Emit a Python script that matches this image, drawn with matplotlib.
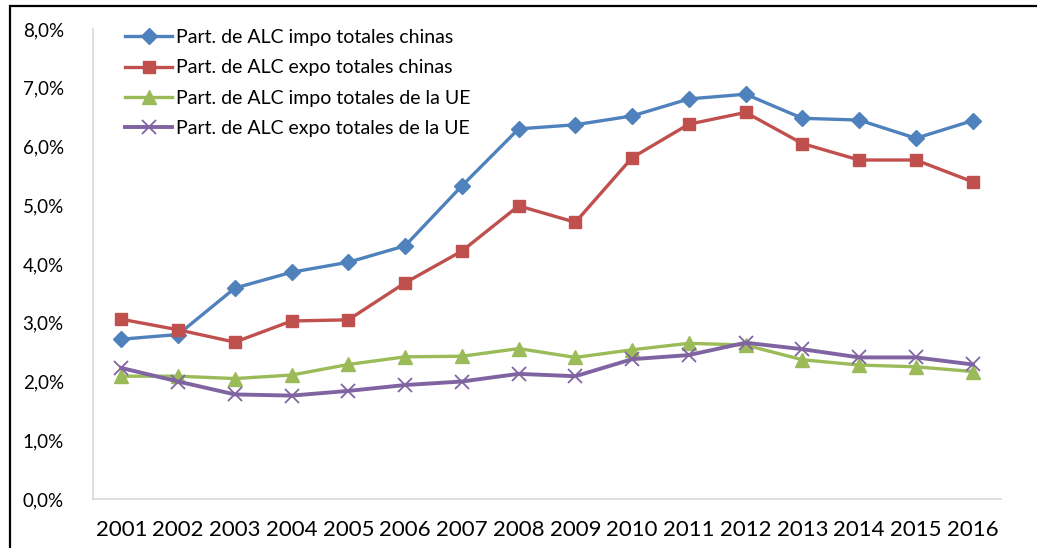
import matplotlib
matplotlib.use("Agg")
from matplotlib import pyplot as plt
from matplotlib.patches import Rectangle
from matplotlib.ticker import FuncFormatter, MultipleLocator

# years on the category axis
years = ["2001", "2002", "2003", "2004", "2005", "2006", "2007", "2008",
         "2009", "2010", "2011", "2012", "2013", "2014", "2015", "2016"]

# shares in percent
impo_china = [2.72, 2.80, 3.59, 3.86, 4.03, 4.31, 5.33, 6.30,
              6.37, 6.52, 6.81, 6.89, 6.48, 6.45, 6.14, 6.44]
expo_china = [3.06, 2.88, 2.67, 3.03, 3.05, 3.68, 4.22, 4.99,
              4.71, 5.81, 6.38, 6.58, 6.05, 5.77, 5.77, 5.40]
impo_ue = [2.09, 2.09, 2.05, 2.11, 2.29, 2.42, 2.43, 2.56,
           2.41, 2.54, 2.65, 2.62, 2.37, 2.28, 2.25, 2.17]
expo_ue = [2.23, 2.00, 1.78, 1.76, 1.84, 1.94, 2.00, 2.13,
           2.09, 2.38, 2.45, 2.66, 2.55, 2.41, 2.41, 2.29]

labels = ["Part. de ALC impo totales chinas",
          "Part. de ALC expo totales chinas",
          "Part. de ALC impo totales de la UE",
          "Part. de ALC expo totales de la UE"]

plt.rcParams['font.family'] = ['Lato', 'DejaVu Sans']

fig = plt.figure(figsize=(10.37, 5.48), dpi=100)
ax = fig.add_axes([93 / 1037, 1 - 499 / 548, 908 / 1037, 470 / 548])

x = range(len(years))
ax.plot(x, impo_china, color="#4F81BD", lw=2.4, marker="D", ms=8,
        label=labels[0])
ax.plot(x, expo_china, color="#C0504D", lw=2.4, marker="s", ms=8.5,
        label=labels[1])
ax.plot(x, impo_ue, color="#9BBB59", lw=2.4, marker="^", ms=10,
        label=labels[2])
ax.plot(x, expo_ue, color="#8064A2", lw=2.8, marker="x", ms=10, mew=1.3,
        label=labels[3])

ax.set_xlim(-0.5, len(years) - 0.5)
ax.set_ylim(0, 8)
ax.yaxis.set_major_locator(MultipleLocator(1))
ax.yaxis.set_major_formatter(
    FuncFormatter(lambda v, p: ("%.1f%%" % v).replace(".", ",")))
ax.set_xticks(list(x))
ax.set_xticklabels(years, fontsize=16)
ax.tick_params(axis="y", labelsize=13.5, length=0, pad=21)
ax.tick_params(axis="x", length=0, pad=15)

for s in ["top", "right"]:
    ax.spines[s].set_visible(False)
for s in ["left", "bottom"]:
    ax.spines[s].set_color("#D9D9D9")
    ax.spines[s].set_linewidth(1.2)

ax.legend(loc="upper left", bbox_to_anchor=(0.0165, 1.037), frameon=False,
          fontsize=14, handlelength=2.4, labelspacing=0.68,
          handletextpad=0.2)

# outer chart border
fig.patches.append(Rectangle((10 / 1037, -0.1), 1.2, 1.1 - 6 / 548,
                             transform=fig.transFigure, fill=False,
                             edgecolor="black", lw=1.6))

fig.savefig("out.png", dpi=100)
